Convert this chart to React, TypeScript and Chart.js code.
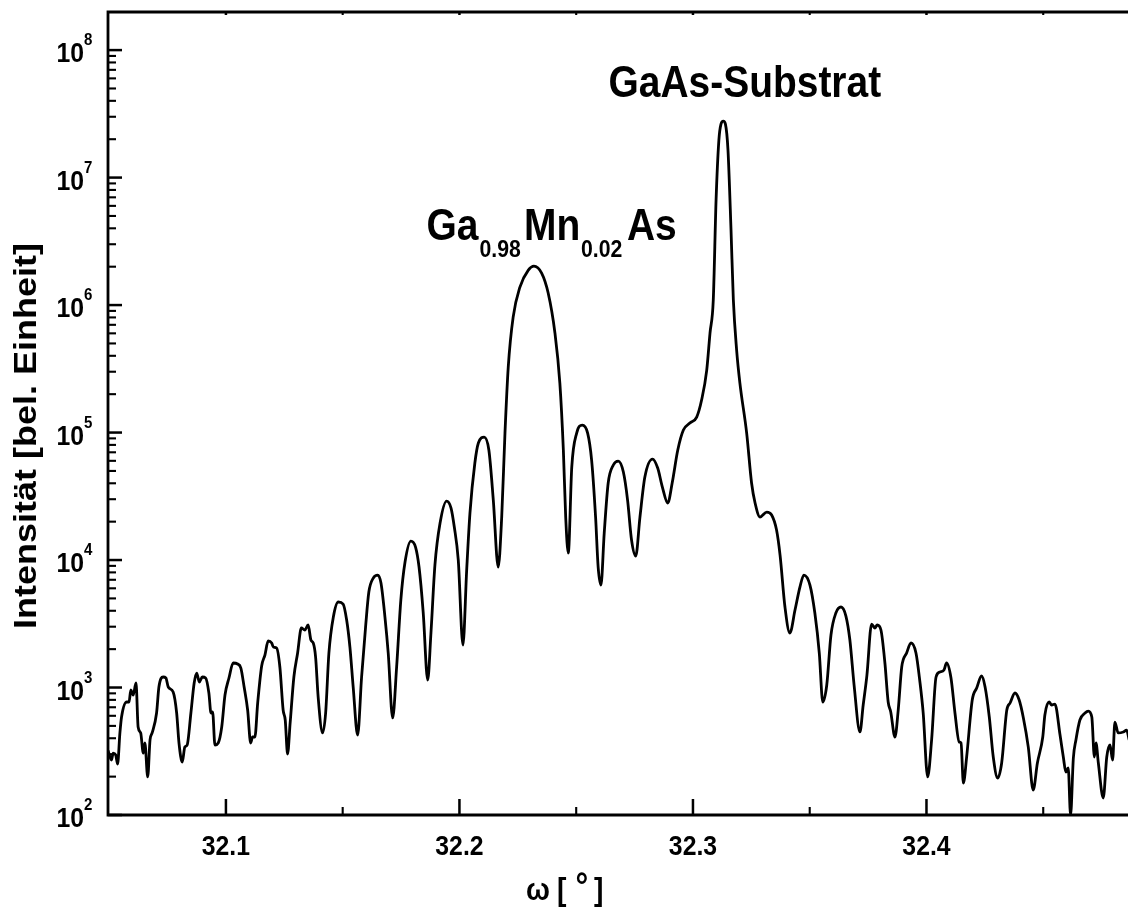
import React, { useEffect, useRef } from 'react';
import { Chart, registerables } from 'chart.js';

Chart.register(...registerables);

// ω in degrees
const omega = [
  32.0495, 32.0510, 32.0517, 32.0528, 32.0536, 32.0546, 32.0553, 32.0575, 32.0585, 32.0593,
  32.0603, 32.0615, 32.0624, 32.0635, 32.0646, 32.0653, 32.0665, 32.0675, 32.0684, 32.0703,
  32.0713, 32.0731, 32.0743, 32.0753, 32.0774, 32.0789, 32.0799, 32.0813, 32.0824, 32.0834,
  32.0850, 32.0864, 32.0875, 32.0886, 32.0899, 32.0913, 32.0927, 32.0936, 32.0943, 32.0953,
  32.0967, 32.0982, 32.0996, 32.1013, 32.1031, 32.1050, 32.1064, 32.1078, 32.1093, 32.1106,
  32.1114, 32.1124, 32.1136, 32.1153, 32.1167, 32.1181, 32.1196, 32.1203, 32.1217, 32.1231,
  32.1245, 32.1254, 32.1264, 32.1275, 32.1291, 32.1307, 32.1323, 32.1338, 32.1352, 32.1364,
  32.1374, 32.1384, 32.1395, 32.1414, 32.1427, 32.1441, 32.1460, 32.1481, 32.1502, 32.1517,
  32.1531, 32.1545, 32.1564, 32.1581, 32.1598, 32.1612, 32.1631, 32.1650, 32.1664, 32.1681,
  32.1695, 32.1714, 32.1731, 32.1749, 32.1767, 32.1792, 32.1812, 32.1827, 32.1845, 32.1864,
  32.1878, 32.1895, 32.1917, 32.1945, 32.1964, 32.1978, 32.1995, 32.2015, 32.2031, 32.2045,
  32.2066, 32.2081, 32.2106, 32.2126, 32.2145, 32.2166, 32.2181, 32.2195, 32.2209, 32.2230,
  32.2259, 32.2295, 32.2319, 32.2352, 32.2380, 32.2409, 32.2430, 32.2445, 32.2455, 32.2466,
  32.2481, 32.2502, 32.2526, 32.2549, 32.2566, 32.2583, 32.2594, 32.2606, 32.2620, 32.2637,
  32.2659, 32.2680, 32.2702, 32.2720, 32.2737, 32.2755, 32.2773, 32.2794, 32.2827, 32.2849,
  32.2869, 32.2892, 32.2911, 32.2935, 32.2959, 32.2987, 32.3016, 32.3037, 32.3059, 32.3073,
  32.3087, 32.3099, 32.3111, 32.3120, 32.3130, 32.3139, 32.3150, 32.3163, 32.3173, 32.3187,
  32.3201, 32.3230, 32.3251, 32.3266, 32.3287, 32.3316, 32.3337, 32.3358, 32.3373, 32.3394,
  32.3415, 32.3437, 32.3458, 32.3475, 32.3501, 32.3522, 32.3541, 32.3556, 32.3573, 32.3591,
  32.3612, 32.3634, 32.3655, 32.3672, 32.3690, 32.3715, 32.3729, 32.3745, 32.3765, 32.3779,
  32.3789, 32.3805, 32.3822, 32.3836, 32.3847, 32.3865, 32.3879, 32.3894, 32.3915, 32.3934,
  32.3955, 32.3972, 32.3986, 32.4005, 32.4022, 32.4041, 32.4058, 32.4075, 32.4086, 32.4105,
  32.4122, 32.4140, 32.4148, 32.4158, 32.4172, 32.4196, 32.4215, 32.4236, 32.4251, 32.4269,
  32.4286, 32.4305, 32.4322, 32.4344, 32.4358, 32.4379, 32.4397, 32.4415, 32.4436, 32.4457,
  32.4475, 32.4498, 32.4507, 32.4525, 32.4536, 32.4550, 32.4572, 32.4586, 32.4597, 32.4607,
  32.4617, 32.4629, 32.4640, 32.4657, 32.4679, 32.4693, 32.4708, 32.4719, 32.4726, 32.4736,
  32.4757, 32.4772, 32.4786, 32.4797, 32.4807, 32.4821, 32.4843, 32.4857, 32.4868,
];

// Intensität [bel. Einheit]
const intensity = [
  320, 270, 306, 296, 251, 440, 587, 770, 770, 956,
  873, 1085, 490, 440, 306, 367, 199, 388, 440, 631,
  1009, 1209, 1187, 1009, 922, 631, 367, 260, 341, 354,
  631, 1085, 1299, 1104, 1209, 1187, 906, 631, 643, 354,
  367, 490, 873, 1187, 1557, 1529, 1422, 1009, 666, 367,
  409, 409, 756, 1475, 1798, 2316, 2234, 2078, 2041, 1448,
  666, 556, 301, 527, 1209, 1865, 2929, 2825, 3092, 2358,
  2234, 1735, 842, 440, 631, 1865, 3572, 4684, 4518, 3384,
  2078, 1009, 424, 1209, 2982, 5610, 7224, 7627, 6602, 3572,
  1865, 577, 1448, 4857, 9645, 14090, 12650, 8813, 3840, 1145,
  2676, 9138, 19510, 29020, 25570, 18150, 10000, 2154, 8350, 23370,
  57660, 82750, 92190, 72910, 29550, 8813, 21740, 99100, 326300, 805100,
  1384000, 1882000, 2023000, 1782000, 1242000, 603100, 244500, 72910, 21740, 11340,
  53630, 99100, 114500, 99100, 60850, 21740, 8813, 6368, 16280, 40170,
  55620, 59760, 49000, 29550, 14360, 10750, 21740, 44770, 61970, 52670,
  37370, 27990, 40170, 72910, 104600, 118700, 132300, 179800, 309200, 603100,
  1095000, 6662000, 19680000, 26280000, 27750000, 26280000, 16430000, 3875000, 1095000, 443700,
  244500, 99100, 40170, 27990, 21740, 23790, 22540, 17190, 10940, 4280,
  2676, 4053, 6140, 7627, 6368, 3840, 1865, 770, 1046, 2581,
  3840, 4280, 3637, 2358, 1046, 448, 729, 1253, 3148, 2929,
  3092, 2825, 1557, 770, 643, 409, 666, 1448, 1865, 2234,
  1865, 1104, 631, 199, 388, 1209, 1323, 1372, 1557, 1187,
  631, 374, 367, 178, 285, 798, 991, 1231, 1009, 587,
  285, 195, 256, 666, 756, 906, 798, 577, 341, 157,
  256, 409, 609, 770, 729, 742, 424, 285, 217, 234,
  100, 280, 388, 556, 631, 654, 587, 285, 367, 256,
  136, 285, 354, 270, 536, 440, 448, 464, 388,
];

const xMajorTicks = [32.1, 32.2, 32.3, 32.4];
const xTickLabels = ['32.1', '32.2', '32.3', '32.4'];
const xMinorTicks = [32.05, 32.15, 32.25, 32.35, 32.45];
const yDecadeExponents = [2, 3, 4, 5, 6, 7, 8];
const X_MIN = 32.0495;
const X_MAX = 32.4863;
const Y_MIN = 100;
const Y_MAX = 1.99e8;

const FONT = '"Liberation Sans", Arial, Helvetica, sans-serif';
const SX = 0.885;

function drawText(
  ctx: CanvasRenderingContext2D,
  s: string,
  x: number,
  y: number,
  size: number,
  align: CanvasTextAlign = 'left',
  rotate = 0
) {
  ctx.save();
  ctx.translate(x, y);
  ctx.scale(SX, 1);
  if (rotate) ctx.rotate(rotate);
  ctx.font = `bold ${size}px ${FONT}`;
  ctx.textAlign = align;
  ctx.textBaseline = 'alphabetic';
  ctx.fillStyle = '#000';
  ctx.fillText(s, 0, 0);
  ctx.restore();
}

const axesPlugin = {
  id: 'xrdAxes',
  afterDraw(chart: any) {
    const ctx: CanvasRenderingContext2D = chart.ctx;
    const a = chart.chartArea;
    const xs = chart.scales.x;
    const ys = chart.scales.y;
    ctx.save();
    ctx.strokeStyle = '#000';
    ctx.lineCap = 'butt';

    // frame lines
    ctx.lineWidth = 2.8;
    ctx.beginPath();
    ctx.moveTo(a.left, a.top);
    ctx.lineTo(a.left, a.bottom);
    ctx.lineTo(a.right, a.bottom);
    ctx.moveTo(a.left - 1.4, a.top);
    ctx.lineTo(a.right, a.top);
    ctx.stroke();

    // y ticks
    for (const e of yDecadeExponents) {
      const v = Math.pow(10, e);
      const py = ys.getPixelForValue(v);
      ctx.lineWidth = 2.5;
      ctx.beginPath();
      ctx.moveTo(a.left, py);
      ctx.lineTo(a.left + 14, py);
      ctx.stroke();
      for (let k = 2; k <= 9; k++) {
        const mv = k * v;
        if (mv > Y_MAX) break;
        const mpy = ys.getPixelForValue(mv);
        ctx.lineWidth = 2.1;
        ctx.beginPath();
        ctx.moveTo(a.left, mpy);
        ctx.lineTo(a.left + 8, mpy);
        ctx.stroke();
      }
      drawText(ctx, '10', 84, py + 12, 28, 'right');
      drawText(ctx, String(e), 84, py - 5, 17, 'left');
    }

    // x ticks
    xMajorTicks.forEach((v, i) => {
      const px = xs.getPixelForValue(v);
      ctx.lineWidth = 2.5;
      ctx.beginPath();
      ctx.moveTo(px, a.bottom);
      ctx.lineTo(px, a.bottom - 16);
      ctx.moveTo(px, a.top);
      ctx.lineTo(px, a.top + 3);
      ctx.stroke();
      drawText(ctx, xTickLabels[i], px, 855, 28, 'center');
    });
    xMinorTicks.forEach((v) => {
      const px = xs.getPixelForValue(v);
      if (px < a.left + 2 || px > a.right) return;
      ctx.lineWidth = 2.1;
      ctx.beginPath();
      ctx.moveTo(px, a.bottom);
      ctx.lineTo(px, a.bottom - 8);
      ctx.moveTo(px, a.top);
      ctx.lineTo(px, a.top + 3);
      ctx.stroke();
    });

    // axis titles
    drawText(ctx, 'ω', 526, 900, 32, 'left');
    drawText(ctx, '[', 557, 900, 32, 'left');
    drawText(ctx, '°', 575.5, 898, 36, 'left');
    drawText(ctx, ']', 594, 900, 32, 'left');

    drawText(ctx, 'Intensität [bel. Einheit]', 36, 436, 36, 'center', -Math.PI / 2);

    // annotations
    drawText(ctx, 'GaAs-Substrat', 608.5, 97, 44, 'left');

    drawText(ctx, 'Ga', 426.5, 240, 44, 'left');
    drawText(ctx, '0.98', 479.5, 257, 24, 'left');
    drawText(ctx, 'Mn', 524, 240, 44, 'left');
    drawText(ctx, '0.02', 581, 257, 24, 'left');
    drawText(ctx, 'As', 627, 240, 44, 'left');

    ctx.restore();
  },
};

export default function App() {
  const canvasRef = useRef<HTMLCanvasElement | null>(null);

  useEffect(() => {
    const canvas = canvasRef.current;
    if (!canvas) return;
    const points = omega.map((x, i) => ({ x, y: intensity[i] }));
    const chart = new Chart(canvas, {
      type: 'line',
      data: {
        datasets: [
          {
            data: points,
            borderColor: '#000',
            borderWidth: 2.8,
            pointRadius: 0,
            fill: false,
            cubicInterpolationMode: 'monotone',
          },
        ],
      },
      options: {
        responsive: false,
        animation: false,
        events: [],
        layout: { padding: { left: 108, right: 0, top: 12, bottom: 94 } },
        plugins: {
          legend: { display: false },
          tooltip: { enabled: false },
        },
        scales: {
          x: { type: 'linear', min: X_MIN, max: X_MAX, display: false },
          y: { type: 'logarithmic', min: Y_MIN, max: Y_MAX, display: false },
        },
      },
      plugins: [axesPlugin],
    } as any);
    return () => chart.destroy();
  }, []);

  return (
    <div style={{ position: 'fixed', left: 0, top: 0, width: 1128, height: 909, background: '#fff' }}>
      <canvas ref={canvasRef} width={1128} height={909} style={{ display: 'block' }} />
    </div>
  );
}
